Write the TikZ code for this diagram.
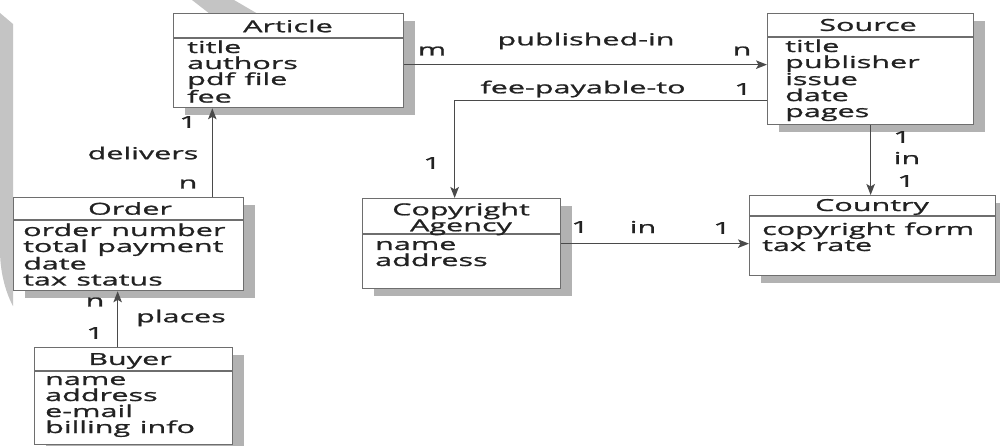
\documentclass[tikz,border=0pt]{standalone}
\usepackage{fontspec}
\setmainfont{Open Sans}[FakeStretch=1.85,FakeBold=1.2]
\usetikzlibrary{arrows.meta,shadows}
\definecolor{ink}{HTML}{222222}
\definecolor{boxline}{HTML}{6E6E6E}
\definecolor{wire}{HTML}{4A4A4A}
\definecolor{shade}{HTML}{B2B2B2}
\definecolor{wmark}{HTML}{C4C4C4}
\newcommand\diagfont{\fontsize{16.5pt}{16pt}\selectfont}
% extra width added to a word space of the stretched face
\newcommand\wsp{\hspace{4pt}}
\begin{document}
\begin{tikzpicture}[x=1pt,y=-1pt,
  every node/.style={text=ink, font=\diagfont},
  classbox/.style={draw=boxline, line width=1.3pt, fill=white, inner sep=0pt,
    anchor=north west,
    drop shadow={shadow xshift=11pt, shadow yshift=-7pt, fill=shade, opacity=1}},
  divline/.style={draw=boxline, line width=1.1pt},
  hdr/.style={inner sep=0pt, align=center},
  attrs/.style={anchor=base west, align=left, text width=240pt, inner sep=0pt},
  lbl/.style={inner sep=0pt},
  conn/.style={draw=wire, line width=1.4pt,
    -{Stealth[length=11pt,width=8.5pt,inset=2.5pt]}}]

\useasboundingbox (0,0) rectangle (1000,446);
\fill[white] (0,0) rectangle (1000,446);

% faint background marks
\fill[wmark] (0,13) -- (13,24) -- (13,306) .. controls (7,295) and (0,275) .. (0,250) -- cycle;
\fill[wmark] (192,0) -- (234,0) -- (258,14) -- (210,14) -- cycle;

% Article
\node[classbox, minimum width=230pt, minimum height=94pt] (article) at (173,13) {};
\draw[divline] ([yshift=-25pt]article.north west) -- ([yshift=-25pt]article.north east);
\node[hdr] (article-name) at (288,26) {Article};
\node[attrs] (article-attrs) at (187,53) {title\\authors\\pdf\wsp{} file\\fee};

% Source
\node[classbox, minimum width=206pt, minimum height=111pt] (source) at (767,13) {};
\draw[divline] ([yshift=-24pt]source.north west) -- ([yshift=-24pt]source.north east);
\node[hdr] (source-name) at (868,25) {Source};
\node[attrs] (source-attrs) at (785,52) {title\\publisher\\issue\\date\\pages};

% Order
\node[classbox, minimum width=230pt, minimum height=93pt] (order) at (13,197) {};
\draw[divline] ([yshift=-23pt]order.north west) -- ([yshift=-23pt]order.north east);
\node[hdr] (order-name) at (130,208.5) {Order};
\node[attrs] (order-attrs) at (23,236) {order\wsp{} number\\total\wsp{} payment\\date\\tax\wsp{} status};

% Buyer
\node[classbox, minimum width=198pt, minimum height=97pt] (buyer) at (34,347) {};
\draw[divline] ([yshift=-24pt]buyer.north west) -- ([yshift=-24pt]buyer.north east);
\node[hdr] (buyer-name) at (130,361) {Buyer};
\node[attrs] (buyer-attrs) at (45,385) {name\\address\\e-mail\\billing\wsp{} info};

% Copyright Agency
\node[classbox, minimum width=198pt, minimum height=90pt] (copyright) at (362,198) {};
\draw[divline] ([yshift=-36pt]copyright.north west) -- ([yshift=-36pt]copyright.north east);
\node[hdr] (copyright-name) at (461,219) {Copyright\\Agency};
\node[attrs] (copyright-attrs) at (375,250) {name\\address};

% Country
\node[classbox, minimum width=246pt, minimum height=80pt] (country) at (749,195) {};
\draw[divline] ([yshift=-21pt]country.north west) -- ([yshift=-21pt]country.north east);
\node[hdr] (country-name) at (872,207) {Country};
\node[attrs] (country-attrs) at (762,235) {copyright\wsp{} form\\tax\wsp{} rate};

% connection points
\coordinate (pub-a) at ([yshift=-4pt]article.east);
\coordinate (fee-s) at ([yshift=-31.5pt]source.west);
\coordinate (fee-c) at ([xshift=-7pt]copyright.north);
\coordinate (dlv) at ([xshift=-32pt]order.north east);
\coordinate (plc) at ([xshift=-16pt]buyer.north);

% relationships
\draw[conn] (pub-a) -- (pub-a -| source.west);
\draw[conn] (fee-s) -| (fee-c);
\draw[conn] (source.south) -- (source.south |- country.north);
\draw[conn] (copyright.east) -- (copyright.east -| country.west);
\draw[conn] (dlv) -- (dlv |- article.south);
\draw[conn] (plc) -- (plc |- order.south);

% relationship names and multiplicities
\node[lbl] (pub-name) at (586,41) {published-in};
\node[lbl] (pub-m) at (432,51) {m};
\node[lbl] (pub-n) at (742,51) {n};
\node[lbl] (fee-name) at (583,89) {fee-payable-to};
\node[lbl] (fee-1s) at (743,89) {1};
\node[lbl] (fee-1c) at (432,163) {1};
\node[lbl] (src-1) at (902,137) {1};
\node[lbl] (src-in) at (907,158) {in};
\node[lbl] (cty-1) at (906,181) {1};
\node[lbl] (cpy-1) at (580,227) {1};
\node[lbl] (cpy-in) at (643,227) {in};
\node[lbl] (cty-1b) at (722,228) {1};
\node[lbl] (dlv-1) at (188,122) {1};
\node[lbl] (dlv-name) at (143,153) {delivers};
\node[lbl] (dlv-n) at (188,184) {n};
\node[lbl] (plc-n) at (95,302) {n};
\node[lbl] (plc-1) at (95,333) {1};
\node[lbl] (plc-name) at (181,318) {places};
\end{tikzpicture}
\end{document}
